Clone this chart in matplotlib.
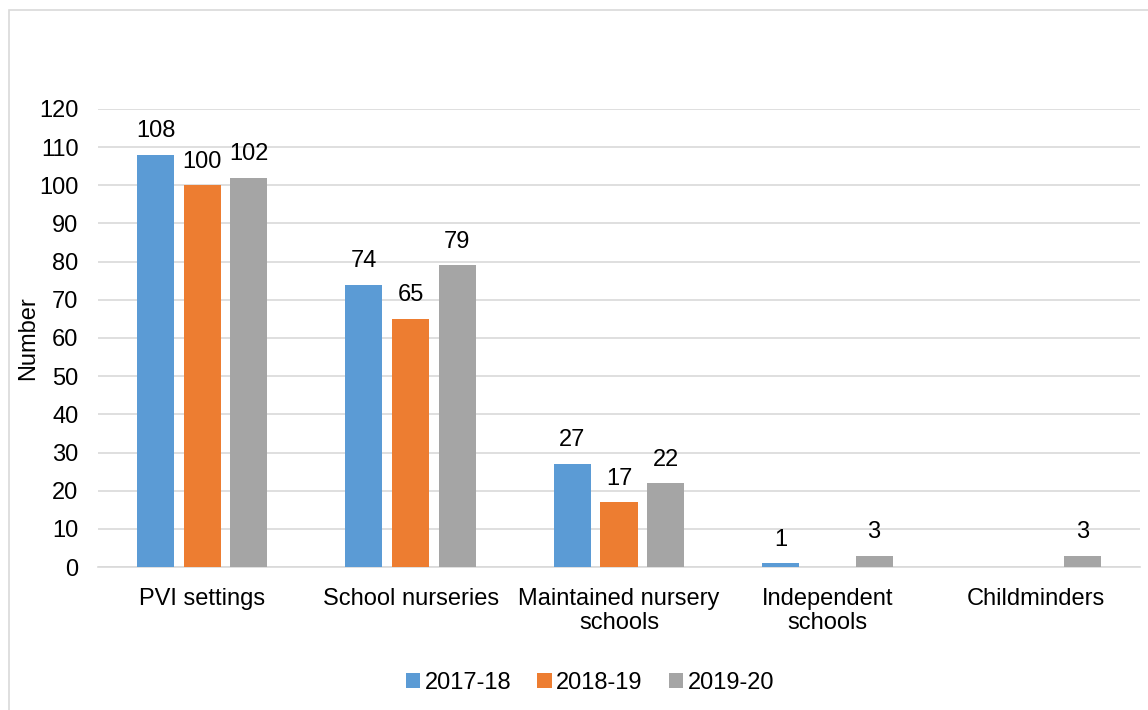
import numpy as np
import matplotlib.pyplot as plt
from matplotlib.patches import Rectangle

categories = ['PVI settings', 'School nurseries', 'Maintained nursery\nschools',
              'Independent\nschools', 'Childminders']
years = ['2017-18', '2018-19', '2019-20']
v2017 = [108, 74, 27, 1, np.nan]
v2018 = [100, 65, 17, np.nan, np.nan]
v2019 = [102, 79, 22, 3, 3]

colors = ['#5b9bd5', '#ed7d31', '#a5a5a5']
grid_col = '#d9d9d9'

plt.rcParams['font.family'] = ['Liberation Sans', 'DejaVu Sans']
fs = 17

fig = plt.figure(figsize=(11.48, 7.10), dpi=100)
ax = fig.add_axes([0.0854, 0.2014, 0.9076, 0.6451])

# light frame round the chart area
fig.patches.append(Rectangle((9 / 1148, -0.1), 1.2, 1 - 10 / 710 + 0.1,
                             transform=fig.transFigure, fill=False,
                             edgecolor=grid_col, linewidth=1.2))

x = np.arange(len(categories))
width = 0.178
step = 0.224
for i, (vals, lab) in enumerate(zip([v2017, v2018, v2019], years)):
    pos = x + (i - 1) * step
    bars = ax.bar(pos, vals, width, color=colors[i], label=lab, zorder=3)
    for xp, v in zip(pos, vals):
        if np.isnan(v):
            continue
        ax.annotate('%d' % v, (xp, v), xytext=(0, 9), textcoords='offset points',
                    ha='center', va='bottom', fontsize=fs)

ax.set_xlim(-0.5, len(categories) - 0.5)
ax.set_ylim(0, 120)
ax.set_yticks(np.arange(0, 121, 10))
ax.set_xticks(x)
ax.set_xticklabels(categories, fontsize=fs, linespacing=1.15)
ax.tick_params(axis='y', labelsize=fs, length=0, pad=14)
ax.tick_params(axis='x', length=0, pad=15)
ax.yaxis.grid(True, color=grid_col, linewidth=1.2, zorder=0)
ax.set_axisbelow(True)
for s in ['top', 'right', 'left']:
    ax.spines[s].set_visible(False)
ax.spines['bottom'].set_color(grid_col)
ax.spines['bottom'].set_linewidth(1.2)
ax.set_ylabel('Number', fontsize=fs, labelpad=0)

fig.legend(loc='center', bbox_to_anchor=(590 / 1148, 1 - 683 / 710), ncol=3,
           frameon=False, fontsize=fs, handlelength=0.6, handleheight=0.6,
           handletextpad=0.2, columnspacing=1.1)

fig.savefig('out.png', dpi=100)
